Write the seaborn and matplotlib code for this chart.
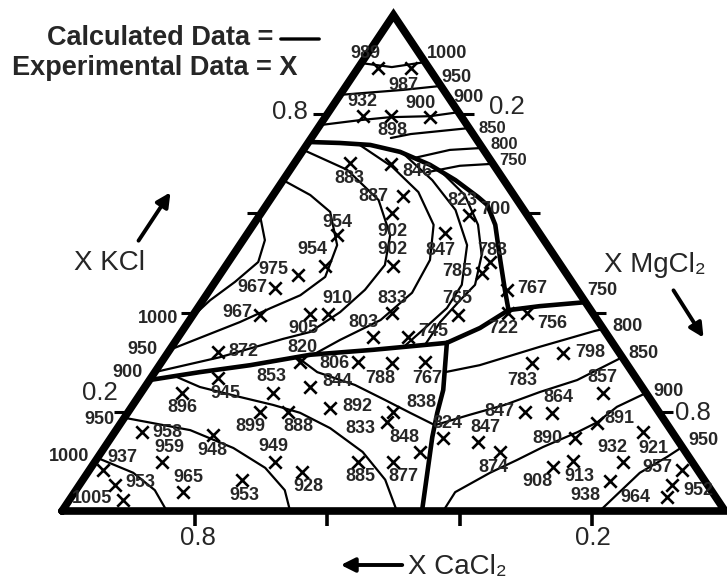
"""
KCl-MgCl2-CaCl2 liquidus projection: calculated isotherms vs experimental points
"""
import matplotlib
matplotlib.use('Agg')
import matplotlib.pyplot as plt
import seaborn as sns
import pandas as pd

sns.set_theme(style='white')
plt.rcParams['font.family'] = ['Liberation Sans', 'DejaVu Sans']
plt.rcParams['font.weight'] = 'bold'

# ── experimental points: mole fractions (KCl, MgCl2) and temperature ─────────
exp_kcl = [0.893, 0.893, 0.796, 0.796, 0.794, 0.702, 0.700, 0.635, 0.601, 0.494,
           0.556, 0.494, 0.476, 0.450, 0.395, 0.397, 0.397, 0.399, 0.560, 0.597,
           0.480, 0.502, 0.395, 0.446, 0.399, 0.399, 0.351, 0.351, 0.300, 0.300,
           0.298, 0.300, 0.321, 0.268, 0.238, 0.238, 0.250, 0.200, 0.200, 0.208,
           0.179, 0.200, 0.119, 0.099, 0.079, 0.099, 0.099, 0.147, 0.139, 0.200,
           0.198, 0.238, 0.177, 0.147, 0.159, 0.119, 0.089, 0.101, 0.060, 0.099,
           0.083, 0.052, 0.028, 0.319, 0.298, 0.159, 0.153, 0.099, 0.083, 0.052,
           0.022, 0.038, 0.062]
exp_mgcl2 = [0.030, 0.080, 0.056, 0.098, 0.158, 0.083, 0.146, 0.197, 0.197, 0.252,
             0.137, 0.150, 0.118, 0.096, 0.101, 0.176, 0.203, 0.298, 0.298, 0.315,
             0.393, 0.395, 0.400, 0.448, 0.473, 0.502, 0.294, 0.347, 0.209, 0.296,
             0.349, 0.398, 0.075, 0.101, 0.062, 0.199, 0.249, 0.199, 0.241, 0.300,
             0.401, 0.399, 0.480, 0.272, 0.323, 0.397, 0.450, 0.501, 0.558, 0.598,
             0.640, 0.697, 0.718, 0.700, 0.797, 0.601, 0.696, 0.720, 0.797, 0.797,
             0.894, 0.894, 0.899, 0.596, 0.560, 0.041, 0.151, 0.101, 0.020, 0.054,
             0.081, 0.164, 0.240]
exp_temp = [989, 987, 932, 898, 900, 883, 846, 887, 902, 902,
            954, 954, 975, 967, 967, 905, 910, 833, 847, 823,
            785, 783, 765, 767, 722, 756, 803, 745, 820, 806,
            788, 767, 872, 945, 896, 853, 844, 899, 888, 892,
            833, 838, 848, 949, 928, 885, 877, 824, 847, 847,
            864, 857, 891, 890, 921, 874, 908, 913, 938, 932,
            957, 952, 964, 798, 783, 958, 948, 959, 937, 953,
            1005, 965, 953]
# where each temperature sits relative to its cross (pixels)
label_offsets = [(-13, 15), (-8, -17), (-1, 15), (2, -14), (-9, 14), (0, -16), (27, -8),
                 (-30, 0), (1, -19), (0, 16), (0, 13), (-13, 16), (-25, 5), (-22, 0),
                 (-23, 3), (-7, -14), (9, 16), (1, 15), (-5, -17), (-6, 14), (-24, 1),
                 (2, 12), (-1, 17), (25, 1), (-5, -15), (25, -10), (-10, 14), (25, 5),
                 (2, 15), (-23, -1), (-12, -15), (2, -16), (25, 0), (8, -15), (0, -15),
                 (-1, 16), (27, 5), (-10, -15), (10, -15), (28, 1), (-27, -6), (29, 9),
                 (-15, 14), (-2, 15), (6, -15), (2, -15), (10, -15), (4, 15), (7, 15),
                 (-25, 0), (6, 15), (-1, 15), (23, 5), (-27, 0), (10, -16), (-7, -16),
                 (-16, -15), (7, -16), (-25, -14), (-11, 14), (-25, 2), (26, -5),
                 (-32, 0), (27, 0), (-10, -17), (25, 0), (0, -15), (8, 14), (20, 12),
                 (25, 3), (-31, 2), (5, 15), (3, -15)]

# ── calculated isotherms, (KCl, MgCl2) along each line ───────────────────────
top_1000 = [(0.903, 0.0), (0.895, 0.05), (0.905, 0.095)]
top_950 = [(0.839, 0.0), (0.849, 0.09), (0.857, 0.143)]
top_900 = [(0.778, 0.0), (0.788, 0.055), (0.794, 0.098), (0.796, 0.157), (0.804, 0.196)]
top_850 = [(0.752, 0.12), (0.760, 0.146), (0.772, 0.228)]
top_800 = [(0.712, 0.176), (0.728, 0.221), (0.732, 0.268)]
top_750 = [(0.683, 0.209), (0.696, 0.252), (0.700, 0.300)]

mid_1000 = [(0.597, 0.0), (0.546, 0.033), (0.502, 0.045), (0.462, 0.030), (0.425, 0.011),
            (0.389, 0.0)]
mid_950 = [(0.667, 0.0), (0.637, 0.056), (0.603, 0.103), (0.536, 0.147), (0.472, 0.161),
           (0.435, 0.142), (0.409, 0.110), (0.381, 0.078), (0.325, 0.0)]
mid_900 = [(0.728, 0.0), (0.688, 0.086), (0.627, 0.164), (0.556, 0.217), (0.496, 0.239),
           (0.446, 0.234), (0.401, 0.219), (0.361, 0.194), (0.347, 0.160), (0.310, 0.083),
           (0.280, 0.0)]
mid_850 = [(0.738, 0.080), (0.694, 0.151), (0.643, 0.216), (0.577, 0.272), (0.506, 0.302),
           (0.440, 0.308), (0.385, 0.288), (0.345, 0.247), (0.316, 0.222)]
mid_800 = [(0.724, 0.150), (0.667, 0.225), (0.607, 0.290), (0.536, 0.343), (0.456, 0.375),
           (0.409, 0.376), (0.369, 0.363), (0.331, 0.350)]
mid_750 = [(0.688, 0.225), (0.637, 0.289), (0.577, 0.339), (0.516, 0.375), (0.456, 0.395),
           (0.425, 0.388), (0.381, 0.380), (0.335, 0.380)]

cacl2_1000 = [(0.107, 0.0), (0.077, 0.069), (0.042, 0.119), (0.0, 0.158)]
cacl2_950 = [(0.188, 0.0), (0.163, 0.112), (0.127, 0.195), (0.087, 0.263), (0.042, 0.315),
             (0.0, 0.344)]
cacl2_900 = [(0.272, 0.034), (0.250, 0.083), (0.230, 0.153), (0.214, 0.211), (0.198, 0.260),
             (0.167, 0.321), (0.119, 0.394), (0.063, 0.456), (0.0, 0.505)]
cacl2_850 = [(0.310, 0.200), (0.280, 0.245), (0.254, 0.315), (0.224, 0.375), (0.198, 0.426),
             (0.173, 0.476)]

mgcl2_800 = [(0.280, 0.438), (0.294, 0.483), (0.331, 0.555), (0.363, 0.622), (0.367, 0.633)]
mgcl2_850 = [(0.173, 0.476), (0.194, 0.518), (0.214, 0.561), (0.240, 0.601), (0.264, 0.645),
             (0.310, 0.690)]
mgcl2_900 = [(0.0, 0.575), (0.038, 0.574), (0.077, 0.607), (0.103, 0.635), (0.129, 0.661),
             (0.159, 0.698), (0.179, 0.718), (0.210, 0.732), (0.238, 0.762)]
mgcl2_950 = [(0.0, 0.811), (0.077, 0.833), (0.109, 0.858), (0.129, 0.871)]

# ── phase-field boundaries (heavy lines) ─────────────────────────────────────
boundary_e = [(0.744, 0.0), (0.742, 0.048), (0.738, 0.096), (0.724, 0.148), (0.698, 0.206),
              (0.667, 0.260), (0.633, 0.311), (0.617, 0.333)]
boundary_d = [(0.617, 0.333), (0.577, 0.365), (0.506, 0.408), (0.446, 0.445), (0.405, 0.471)]
boundary_c = [(0.339, 0.411), (0.369, 0.446), (0.405, 0.471), (0.413, 0.514), (0.421, 0.579)]
boundary_a = [(0.264, 0.0), (0.280, 0.068), (0.294, 0.137), (0.315, 0.217), (0.325, 0.307),
              (0.339, 0.411)]
boundary_b = [(0.339, 0.411), (0.244, 0.453), (0.198, 0.467), (0.149, 0.484), (0.0, 0.543)]

# isotherm temperature written at the end of a line: (line, text, end, dx, dy)
isotherm_labels = [
    (top_1000, '1000', -1, 22, 9), (top_950, '950', -1, 16, 8), (top_900, '900', -1, 10, 15),
    (top_850, '850', -1, 23, 0), (top_800, '800', -1, 22, 3), (top_750, '750', -1, 20, 3),
    (boundary_d, '700', 0, 8, -5),
    (mid_1000, '1000', -1, -33, 0), (mid_950, '950', -1, -27, 0), (mid_900, '900', -1, -27, 0),
    (cacl2_950, '950', 0, -25, -2), (cacl2_1000, '1000', 0, -28, 1),
    (boundary_c, '750', -1, 17, 12), (mgcl2_800, '800', -1, 24, 2),
    (mgcl2_850, '850', -1, 21, 4), (mgcl2_900, '900', -1, 22, 1), (mgcl2_950, '950', -1, 21, 7),
]

thin_lines = [top_1000, top_950, top_900, top_850, top_800, top_750,
              mid_1000, mid_950, mid_900, mid_850, mid_800, mid_750,
              cacl2_1000, cacl2_950, cacl2_900, cacl2_850,
              mgcl2_800, mgcl2_850, mgcl2_900, mgcl2_950]
heavy_lines = [boundary_a, boundary_b, boundary_c, boundary_d, boundary_e]

tick_fracs = [0.2, 0.4, 0.6, 0.8]


def to_xy(kcl, mgcl2):
    # KCl at the apex, CaCl2 bottom-left, MgCl2 bottom-right
    return mgcl2 + 0.5 * kcl, kcl


def line_frame(pts):
    xs, ys = zip(*[to_xy(k, m) for k, m in pts])
    return pd.DataFrame({'x': xs, 'y': ys})


fig = plt.figure(figsize=(7.27, 5.80), dpi=100)
ax = fig.add_axes([62 / 727, 69 / 580, 663 / 727, 496 / 580])
ax.set_xlim(0, 1)
ax.set_ylim(0, 1)
ax.axis('off')

NUM_FS = 13

# triangle frame
frame = line_frame([(0, 0), (0, 1), (1, 0), (0, 0)])
sns.lineplot(data=frame, x='x', y='y', sort=False, estimator=None, color='black',
             lw=5.5, ax=ax, clip_on=False, solid_joinstyle='miter')

# edge ticks
for t in tick_fracs:
    lx, ly = to_xy(t, 0.0)
    rx, ry = to_xy(1 - t, t)
    bx, by = to_xy(0.0, t)
    ax.plot(lx, ly, marker=0, ms=10, mew=2.2, color='black', clip_on=False)
    ax.plot(rx, ry, marker=1, ms=10, mew=2.2, color='black', clip_on=False)
    ax.plot(bx, by, marker=3, ms=11, mew=2.6, color='black', clip_on=False)

for pts in thin_lines:
    sns.lineplot(data=line_frame(pts), x='x', y='y', sort=False, estimator=None,
                 color='black', lw=1.6, ax=ax, clip_on=False)
for pts in heavy_lines:
    sns.lineplot(data=line_frame(pts), x='x', y='y', sort=False, estimator=None,
                 color='black', lw=3.3, ax=ax, clip_on=False)

# experimental crosses
exp_df = pd.DataFrame({'kcl': exp_kcl, 'mgcl2': exp_mgcl2, 'temp': exp_temp})
exp_df['x'], exp_df['y'] = to_xy(exp_df['kcl'], exp_df['mgcl2'])
sns.scatterplot(data=exp_df, x='x', y='y', marker='x', s=80, color='black',
                linewidth=1.9, ax=ax, clip_on=False, zorder=5)
for (_, row), (dx, dy) in zip(exp_df.iterrows(), label_offsets):
    ax.annotate(str(int(row['temp'])), (row['x'], row['y']), xytext=(dx, dy),
                textcoords='offset pixels', ha='center', va='center', fontsize=NUM_FS)

for pts, text, end, dx, dy in isotherm_labels:
    ex, ey = to_xy(*pts[end])
    fs = 12 if text in ('850', '800', '750') and ex < 0.75 else NUM_FS
    ax.annotate(text, (ex, ey), xytext=(dx, dy), textcoords='offset pixels',
                ha='center', va='center', fontsize=fs)

# composition tick labels
tick_labels = [((0.8, 0.0), '0.8', -37, 2), ((0.2, 0.0), '0.2', -28, 19),
               ((0.8, 0.2), '0.2', 47, 7), ((0.2, 0.8), '0.8', 34, -1),
               ((0.0, 0.2), '0.8', 3, -27), ((0.0, 0.8), '0.2', 0, -27)]
for (k, m), text, dx, dy in tick_labels:
    ax.annotate(text, to_xy(k, m), xytext=(dx, dy), textcoords='offset pixels',
                ha='center', va='center', fontsize=18.5, fontweight='normal')

# component labels with arrows (figure pixels, origin bottom-left)
H = 580
TITLE_FS = 20
ax.annotate('X KCl', (110, H - 263), xycoords='figure pixels', ha='center',
            va='center', fontsize=TITLE_FS, fontweight='normal')
ax.annotate('', xy=(172, H - 190), xytext=(137, H - 243), xycoords='figure pixels',
            arrowprops=dict(arrowstyle='-|>,head_length=0.7,head_width=0.35', lw=2.8,
                            color='black'))
ax.annotate('X MgCl₂', (655, H - 265), xycoords='figure pixels', ha='center',
            va='center', fontsize=TITLE_FS, fontweight='normal')
ax.annotate('', xy=(705, H - 340), xytext=(672, H - 288), xycoords='figure pixels',
            arrowprops=dict(arrowstyle='-|>,head_length=0.7,head_width=0.35', lw=2.8,
                            color='black'))
ax.annotate('X CaCl₂', (457, H - 567), xycoords='figure pixels', ha='center',
            va='center', fontsize=TITLE_FS, fontweight='normal')
ax.annotate('', xy=(338, H - 565), xytext=(405, H - 565), xycoords='figure pixels',
            arrowprops=dict(arrowstyle='-|>,head_length=0.7,head_width=0.35', lw=2.8,
                            color='black'))

# legend
ax.annotate('Calculated Data =', (273, H - 38), xycoords='figure pixels', ha='right',
            va='center', fontsize=19.5)
ax.annotate('', xy=(322, H - 39), xytext=(278, H - 39), xycoords='figure pixels',
            arrowprops=dict(arrowstyle='-', lw=2.4, color='black'))
ax.annotate('Experimental Data = X', (12, H - 68), xycoords='figure pixels', ha='left',
            va='center', fontsize=19.5)

fig.savefig('out.png', dpi=100)
